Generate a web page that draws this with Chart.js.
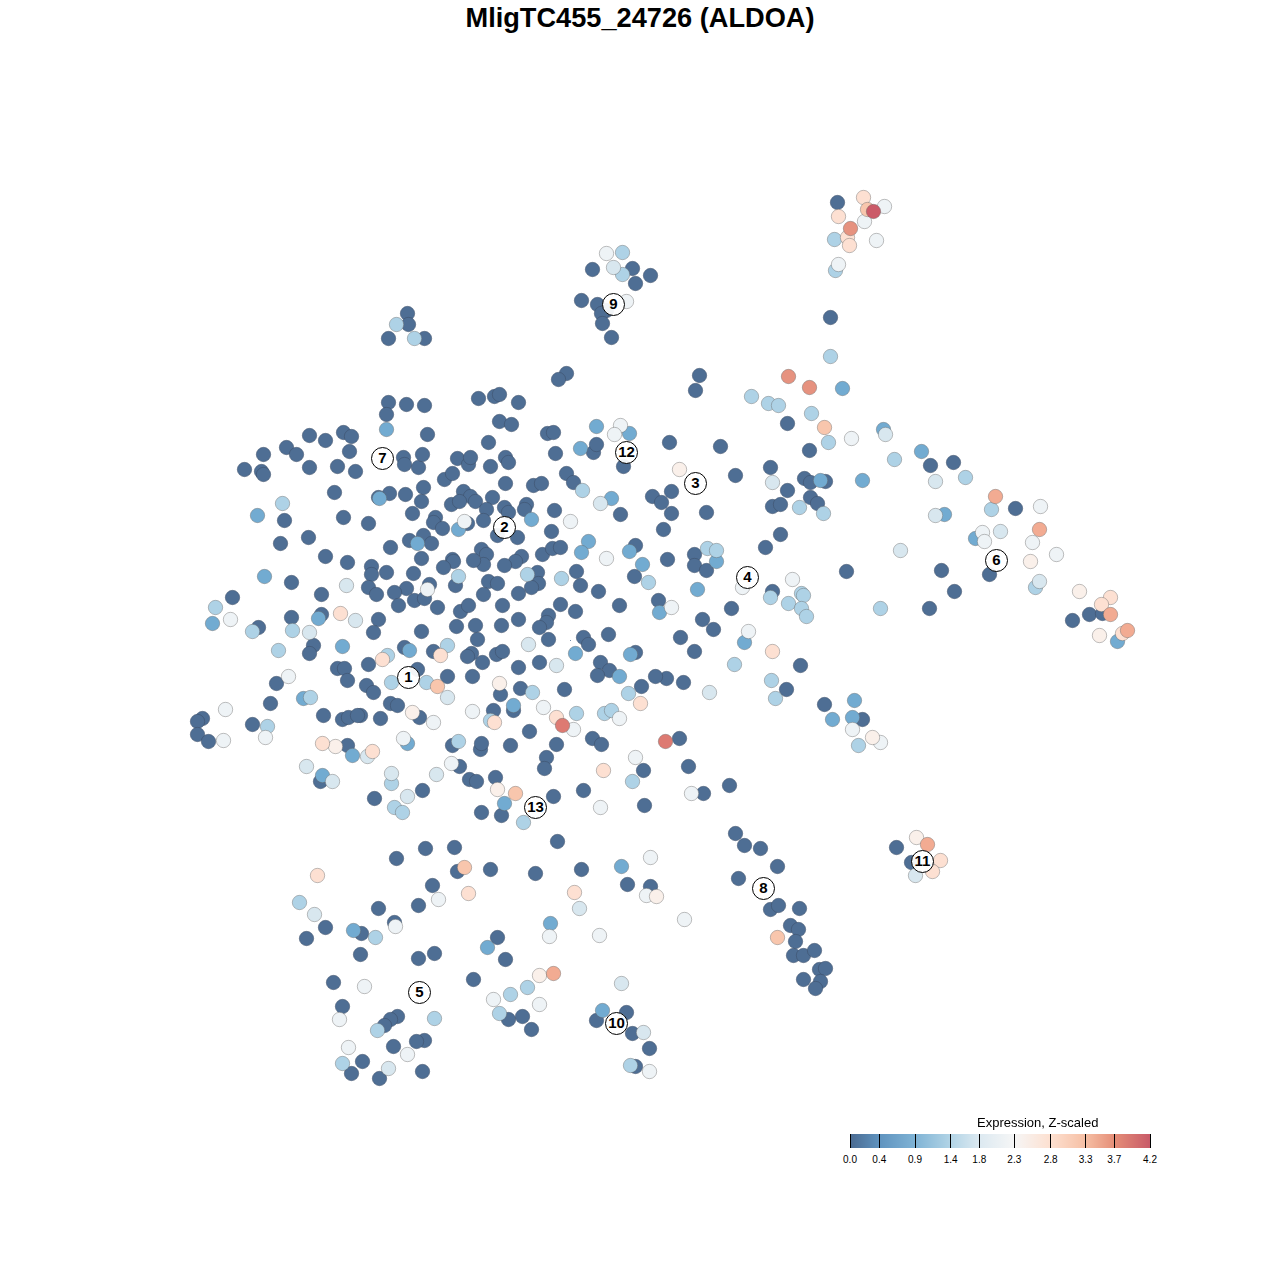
<!DOCTYPE html>
<html><head><meta charset="utf-8">
<script src="https://cdn.jsdelivr.net/npm/chart.js@4"></script>
<style>
html,body{margin:0;padding:0;background:#fff;width:1280px;height:1280px;overflow:hidden;position:relative}
#main{position:absolute;left:0;top:0}
#bar{position:absolute;left:830px;top:1125px}
#barTitle{position:absolute;left:977px;top:1115px;font:13px "Liberation Sans",Arial,sans-serif;color:#000;white-space:nowrap}
</style></head><body>
<canvas id="main" width="1280" height="1280"></canvas>
<canvas id="bar" width="340" height="45"></canvas>
<div id="barTitle">Expression, Z-scaled</div>
<script>
const chartTitle = "MligTC455_24726 (ALDOA)";
const legendTitle = "Expression, Z-scaled";
const levelValues = [0.1,0.6,1.1,1.6,2.0,2.4,2.8,3.1,3.4,3.6,3.9,4.2];

const level0 = [[837,202],[592,269],[632,268],[650,275],[635,283],[581,300],[597,304],[606,310],[601,313],[602,323],[611,337],
[407,313],[408,324],[388,338],[424,338],[830,317],[699,375],[695,390],[566,373],[558,379],[787,423],[930,465],[953,462],[809,450],[770,467],[787,490],[804,478],[810,482],[825,481],[735,475],[720,446],[669,442],[810,497],[817,503],[772,506],[780,504],[780,534],[765,547],
[1015,508],[989,574],[941,570],[954,591],[846,571],[929,608],[1072,620],[1089,614],[1102,613],
[772,591],[731,608],[702,619],[713,629],[680,637],[694,651],[800,665],[786,689],[683,682],[666,678],[655,676],[824,704],[862,719],[679,738],[643,770],[688,766],[729,785],[703,793],[644,805],
[735,833],[744,845],[760,848],[777,866],[738,878],[770,909],[778,905],[799,908],[790,925],[798,929],[795,941],[793,955],[803,955],[814,950],[819,969],[825,968],[803,979],[820,981],[815,988],
[896,847],[911,862],
[557,841],[425,848],[454,847],[396,858],[490,869],[535,873],[581,869],[457,871],[432,885],[627,884],[650,886],[418,905],[378,908],[394,922],[325,927],[306,938],[361,933],[497,937],[360,954],[434,953],[418,958],[505,959],[473,979],[333,982],[342,1006],[397,1016],[390,1019],[384,1025],[508,1019],[522,1016],[531,1029],[626,1012],[596,1020],[632,1033],[424,1040],[416,1041],[393,1046],[649,1048],[362,1061],[351,1073],[379,1078],[422,1071],[635,1066],
[427,434],[488,442],[403,457],[404,464],[418,467],[422,454],[457,458],[468,464],[470,457],[490,466],[505,457],[508,462],[555,453],[593,452],[596,444],[623,466],[444,479],[452,473],[505,483],[533,485],[541,483],[566,473],[573,482],[389,493],[378,497],[405,494],[423,487],[421,501],[463,491],[470,496],[451,504],[459,501],[475,501],[492,497],[486,509],[504,507],[508,512],[526,504],[524,509],[554,510],[620,514],[412,513],[368,523],[435,517],[433,522],[442,528],[467,523],[483,520],[551,531],[497,535],[517,537],[423,535],[409,540],[431,543],[390,547],[481,549],[486,554],[483,564],[473,560],[452,559],[453,561],[443,567],[421,558],[521,556],[515,561],[504,565],[542,554],[552,548],[560,547],[635,545],[634,576],[371,566],[371,574],[386,572],[413,573],[537,572],[538,583],[531,587],[576,571],[580,585],[598,591],[429,584],[406,588],[394,592],[368,587],[376,594],[455,585],[488,581],[497,583],[483,594],[518,593],[398,605],[414,600],[424,598],[437,607],[460,611],[468,605],[502,605],[560,604],[575,611],[619,605],[658,600],[378,619],[373,632],[421,631],[456,626],[475,625],[477,639],[501,625],[518,619],[548,615],[546,622],[539,627],[548,639],[608,634],[583,637],[588,644],[404,647],[433,651],[471,653],[467,656],[482,662],[496,654],[502,651],[539,662],[635,652],[600,662],[609,670],[597,675],[368,664],[417,669],[518,667],[472,676],[447,676],[366,685],[373,692],[390,703],[397,705],[520,688],[500,694],[564,689],[641,686],[419,717],[380,718],[360,715],[493,710],[513,710],[529,731],
[309,435],[325,440],[343,432],[351,436],[349,451],[263,454],[286,447],[296,454],[244,469],[261,471],[263,474],[309,467],[337,466],[355,471],[334,492],[284,520],[343,517],[280,543],[308,537],[325,556],[347,562],[291,582],[321,594],[232,597],[258,627],[291,617],[321,614],[313,645],[309,653],[337,668],[344,668],[347,680],[276,683],[270,703],[202,718],[197,721],[197,734],[208,741],[252,724],[323,715],[342,719],[348,717],[357,715],[347,745],
[452,745],[480,749],[481,743],[510,745],[556,744],[592,738],[601,744],[546,757],[544,768],[459,766],[320,781],[469,779],[476,781],[495,777],[553,796],[583,790],[422,790],[374,798],[481,812],[501,815],
[388,402],[406,404],[424,405],[386,414],[478,398],[494,396],[499,394],[518,402],[499,421],[511,424],[547,433],[553,432],
[652,496],[661,502],[671,491],[671,513],[706,512],[663,529],[667,559],[694,554],[694,565],[706,570]];

const level1 = [[842,388],[921,451],[883,429],[944,514],[820,480],[862,480],[975,538],[1117,641],[744,642],[854,700],[832,719],[852,717],[621,866],[353,930],[550,923],[487,947],[602,1010],[386,429],[580,448],[379,498],[611,498],[531,519],[458,529],[417,543],[588,541],[581,552],[629,551],[642,564],[409,650],[575,653],[630,654],[619,676],[513,705],[257,515],[264,576],[212,623],[318,618],[342,646],[303,698],[352,755],[322,775],[407,743],[504,803],[596,426],[629,433],[716,561],[697,589],[659,612]];

const level2 = [[834,239],[835,270],[622,252],[622,274],[396,324],[414,338],[830,356],[751,396],[768,403],[778,405],[811,413],[828,442],[894,459],[965,477],[799,507],[823,513],[991,509],[1035,587],[880,608],[770,597],[788,603],[801,593],[803,595],[801,608],[806,616],[734,664],[771,680],[775,698],[858,745],[632,781],[299,902],[375,937],[527,987],[510,994],[377,1030],[434,1018],[499,1013],[342,1063],[630,1065],[582,490],[648,582],[458,576],[527,574],[561,578],[387,655],[447,645],[532,692],[391,682],[426,682],[628,693],[490,720],[576,713],[604,713],[611,710],[282,503],[215,607],[252,631],[292,630],[278,650],[310,697],[267,726],[391,783],[394,807],[402,812],[523,822],[458,741],[707,548],[716,550]];

const level3 = [[613,267],[935,481],[772,482],[885,434],[935,515],[1000,531],[900,550],[1039,581],[709,692],[915,875],[314,914],[579,908],[621,983],[643,1032],[388,1068],[600,503],[528,644],[556,665],[447,697],[346,585],[355,620],[309,632],[367,756],[391,773],[306,766],[332,781],[436,774],[407,796]];

const level4 = [[838,264],[884,206],[864,221],[876,240],[606,253],[626,301],[851,438],[1040,506],[982,532],[984,541],[1032,542],[1056,554],[742,587],[792,579],[748,631],[852,729],[880,742],[635,757],[691,793],[600,807],[650,857],[646,895],[438,899],[395,926],[684,919],[549,936],[599,935],[364,986],[493,999],[539,1004],[339,1019],[348,1047],[407,1054],[649,1071],[606,558],[464,521],[427,589],[433,722],[472,711],[543,707],[619,718],[573,729],[230,619],[288,676],[225,709],[223,740],[265,737],[403,738],[451,763],[620,425],[614,434],[671,607],[570,521]];

const level5 = [[679,469],[1030,561],[1099,635],[1079,591],[916,837],[872,737],[539,975],[656,896],[499,683],[412,712],[335,746],[497,789]];

const level6 = [[863,197],[838,216],[847,237],[849,245],[1110,597],[1101,604],[1122,633],[772,651],[603,770],[940,860],[932,871],[317,875],[468,893],[574,892],[382,659],[440,655],[640,703],[494,722],[556,717],[340,613],[322,743],[372,751]];

const level7 = [[867,209],[824,427],[777,937],[464,867],[437,686],[515,793]];

const level8 = [[995,496],[1039,529],[1110,614],[1127,630],[927,844],[553,973]];

const level9 = [[850,228],[788,376],[809,387]];

const level10 = [[665,741],[562,725]];

const level11 = [[873,211]];

const speck = [[570,640]];

const clusterNames = ["1","2","3","4","5","6","7","8","9","10","11","12","13"];
const clusterPoints = [[408,677],[504,527],[695,483],[747,577],[419,992],[996,560],[382,458],[763,888],[613,304],[616,1023],[922,861],[626,452],[535,807]];

const legendTicks = [0,0.41,0.91,1.41,1.81,2.30,2.81,3.30,3.70,4.2];
const legendColors = ["#4a6a91","#5f93bf","#7fb3d5","#b2d4e6","#dce9f1","#f6f6f6","#fde0d0","#f6bfa4","#e58e78","#c85a68"];
const levelColors = ["#4e6e94","#72abd1","#aed2e6","#d8e7ef","#eef3f6","#faf0ea","#fde0d2","#f8c6ad","#f2ab92","#e6927f","#dd7a72","#cb5a68"];

const levels = [level0,level1,level2,level3,level4,level5,level6,level7,level8,level9,level10,level11];
const toXY = p => ({x:p[0],y:p[1]});

const whiteBg = {id:"whiteBg",beforeDraw(c){const x=c.ctx;x.save();x.fillStyle="#fff";x.fillRect(0,0,c.width,c.height);x.restore();}};
const clusterText = {id:"clusterText",afterDatasetsDraw(c){
  const x=c.ctx,sx=c.scales.x,sy=c.scales.y;x.save();
  x.font='bold 15px "Liberation Sans",Arial,sans-serif';x.fillStyle="#000";x.textAlign="center";x.textBaseline="middle";
  clusterPoints.forEach((p,i)=>x.fillText(clusterNames[i],sx.getPixelForValue(p[0]),sy.getPixelForValue(p[1])+0.5));
  x.restore();}};

const datasets = levels.map((pts,i)=>({
  label:"Expression "+levelValues[i],
  data:pts.map(toXY),
  order:20-i,
  pointRadius:7.2,
  pointBackgroundColor:levelColors[i],
  pointBorderColor:i===0?"rgba(60,75,100,.55)":"rgba(100,100,100,.45)",
  pointBorderWidth:0.9
}));
datasets.push({label:"speck",data:speck.map(toXY),order:5,pointRadius:0.5,pointBorderWidth:0,pointBackgroundColor:"#4c6c92"});
datasets.push({label:"clusters",data:clusterPoints.map(toXY),order:1,pointRadius:11,pointBackgroundColor:"rgba(255,255,255,.93)",pointBorderColor:"#000",pointBorderWidth:1});

const TITLE_PAD_TOP=3;
document.getElementById("main").getContext("2d",{alpha:false});
new Chart(document.getElementById("main"),{
  type:"scatter",
  data:{datasets},
  plugins:[whiteBg,clusterText],
  options:{
    responsive:false,animation:false,
    layout:{padding:0,autoPadding:false},
    plugins:{
      legend:{display:false},tooltip:{enabled:false},
      title:{display:true,text:chartTitle,color:"#000",padding:{top:TITLE_PAD_TOP,bottom:0},
        font:{family:'"Liberation Sans",Arial,sans-serif',size:27.2,weight:"bold"}}
    },
    scales:{
      x:{type:"linear",display:false,min:-0.5,max:1279.5},
      y:{type:"linear",display:false,reverse:true,min:35.14,max:1279.5}
    }
  }
});

document.getElementById("bar").getContext("2d",{alpha:false});
new Chart(document.getElementById("bar"),{
  type:"bar",
  data:{labels:[legendTitle],datasets:[{
    data:[[legendTicks[0],legendTicks[legendTicks.length-1]]],
    barPercentage:1,categoryPercentage:1,borderWidth:0,
    backgroundColor(ctx){
      const a=ctx.chart.chartArea;if(!a)return legendColors[0];
      const g=ctx.chart.ctx.createLinearGradient(a.left,0,a.right,0);
      legendTicks.forEach((t,i)=>g.addColorStop(t/4.2,legendColors[i]));
      return g;
    }
  }]},
  plugins:[whiteBg],
  options:{
    indexAxis:"y",responsive:false,animation:false,
    layout:{padding:{left:20,right:20,top:9,bottom:0},autoPadding:false},
    plugins:{legend:{display:false},tooltip:{enabled:false}},
    scales:{
      y:{display:false},
      x:{type:"linear",min:0,max:4.2,position:"bottom",
        afterBuildTicks(s){s.ticks=legendTicks.map(v=>({value:v}));},
        afterFit(s){s.height=22;},
        border:{display:false},
        grid:{color:"#000",lineWidth:1,z:1,drawTicks:false,tickLength:0},
        ticks:{autoSkip:false,maxRotation:0,color:"#000",padding:6,font:{family:'"Liberation Sans",Arial,sans-serif',size:10},
          callback:v=>v.toFixed(1)}
      }
    }
  }
});
</script>
</body></html>
